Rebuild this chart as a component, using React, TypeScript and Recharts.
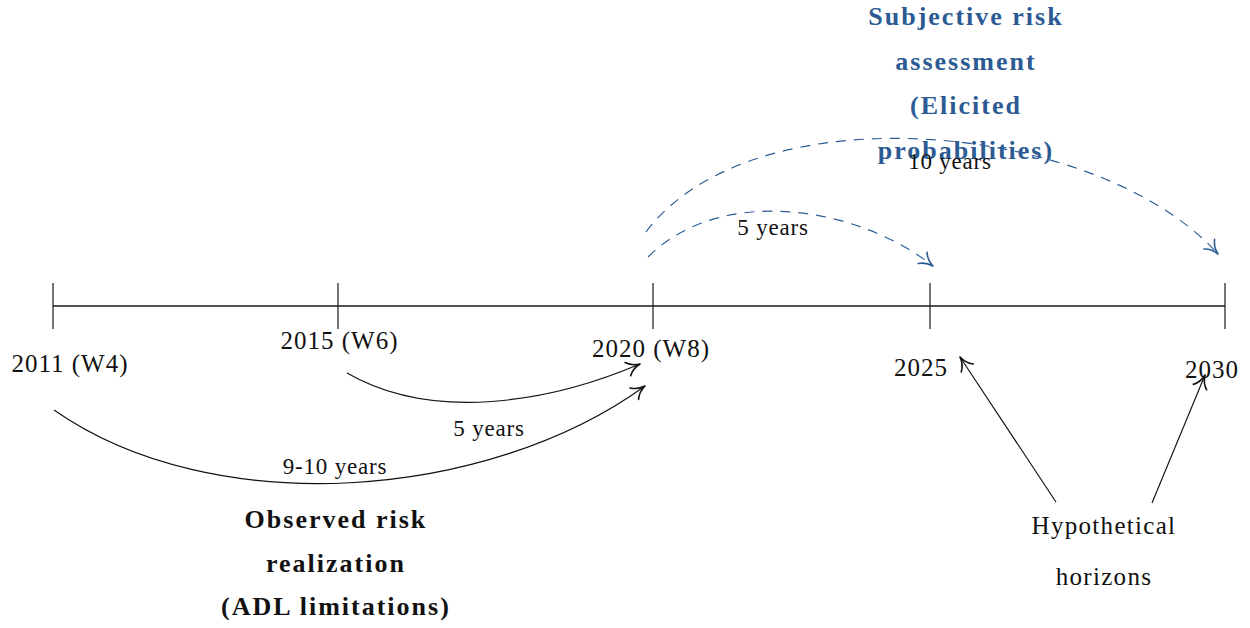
import React from "react";
import { ComposedChart, Line, XAxis, YAxis, ReferenceLine, ReferenceDot } from "recharts";

// ---------- data ----------
const yearLabels = ["2011 (W4)", "2015 (W6)", "2020 (W8)", "2025", "2030"];
const timelinePositions = [0, 4.863, 10.239, 14.966, 20];
const timelineLevels = [0, 0, 0, 0, 0];

const arcLabels = ["5 years", "9-10 years", "5 years", "10 years"];
const arcStartX = [5.017, 0.017, 10.154, 10.119];
const arcStartY = [-1.143, -1.775, 0.836, 1.263];
const arcEndX = [10.017, 10.102, 15.017, 19.881];
const arcEndY = [-0.99, -1.365, 0.683, 0.887];
const arcLabelX = [7.44, 4.812, 12.287, 15.307];
const arcLabelY = [-2.082, -2.747, 1.348, 2.474];
const arcKinds = ["observed", "observed", "subjective", "subjective"];

const pointerStartX = [17.116, 18.754];
const pointerStartY = [-3.345, -3.362];
const pointerEndX = [15.478, 19.659];
const pointerEndY = [-0.87, -1.177];

const subjectiveTitle = ["Subjective risk", "assessment", "(Elicited", "probabilities)"];
const observedTitle = ["Observed risk", "realization", "(ADL limitations)"];
const hypotheticalTitle = ["Hypothetical", "horizons"];
const titleX = [15.58, 4.829, 17.935];
const titleY = [3.797, -4.386, -4.189];

// ---------- style ----------
const W = 1250;
const H = 628;
const X_DOMAIN: [number, number] = [-0.9044, 20.4266];
const Y_DOMAIN: [number, number] = [-5.4949, 5.2218];
const FONT = "'Liberation Serif', 'Times New Roman', serif";
const BLUE = "#2c5b94";
const INK = "#111";
const tickHalf = 23;
const tickLabelOffsets = [
  [17, 58],
  [1.5, 35],
  [-2, 43],
  [-9, 62],
  [-13, 64],
];
// out angle, in angle (degrees), looseness
const arcShapes = [
  [-30, 203, 0.86],
  [-35, 216, 0.84],
  [45, 142, 0.9],
  [53, 132, 0.8],
];

const rows = timelinePositions.map((p, i) => ({
  pos: p,
  level: timelineLevels[i],
  label: yearLabels[i],
}));

function arrowHead(tx: number, ty: number, ang: number, color: string) {
  const L = 15;
  const a = 0.5;
  const back = ang + Math.PI;
  const b1 = [tx + L * Math.cos(back + a), ty + L * Math.sin(back + a)];
  const b2 = [tx + L * Math.cos(back - a), ty + L * Math.sin(back - a)];
  const c1 = [tx + 0.55 * L * Math.cos(back + a * 0.3), ty + 0.55 * L * Math.sin(back + a * 0.3)];
  const c2 = [tx + 0.55 * L * Math.cos(back - a * 0.3), ty + 0.55 * L * Math.sin(back - a * 0.3)];
  const d = `M${b1[0]},${b1[1]} Q${c1[0]},${c1[1]} ${tx},${ty} Q${c2[0]},${c2[1]} ${b2[0]},${b2[1]}`;
  return <path d={d} fill="none" stroke={color} strokeWidth={1.6} strokeLinecap="round" strokeLinejoin="round" />;
}

function makeArcShape(i: number) {
  const [outA, inA, loose] = arcShapes[i];
  const subjective = arcKinds[i] === "subjective";
  const color = subjective ? BLUE : INK;
  return (props: any) => {
    const { x1, y1, x2, y2 } = props;
    const dist = Math.hypot(x2 - x1, y2 - y1) * 0.3915 * loose;
    const oa = (outA * Math.PI) / 180;
    const ia = (inA * Math.PI) / 180;
    const p1 = [x1 + dist * Math.cos(oa), y1 - dist * Math.sin(oa)];
    const p2 = [x2 + dist * Math.cos(ia), y2 - dist * Math.sin(ia)];
    const travel = Math.atan2(y2 - p2[1], x2 - p2[0]);
    return (
      <g>
        <path
          d={`M${x1},${y1} C${p1[0]},${p1[1]} ${p2[0]},${p2[1]} ${x2},${y2}`}
          fill="none"
          stroke={color}
          strokeWidth={1.15}
          strokeDasharray={subjective ? "10 8" : undefined}
        />
        {arrowHead(x2, y2, travel, color)}
      </g>
    );
  };
}

const pointerShape = (props: any) => {
  const { x1, y1, x2, y2 } = props;
  const travel = Math.atan2(y2 - y1, x2 - x1);
  return (
    <g>
      <line x1={x1} y1={y1} x2={x2} y2={y2} stroke={INK} strokeWidth={1.15} />
      {arrowHead(x2, y2, travel, INK)}
    </g>
  );
};

function textShape(lines: string[], opts: { size: number; bold?: boolean; color: string; gap: number; spacing: number }) {
  return (props: any) => {
    const { cx, cy } = props;
    const top = cy - ((lines.length - 1) * opts.gap) / 2;
    return (
      <text
        textAnchor="middle"
        fontFamily={FONT}
        fontSize={opts.size}
        fontWeight={opts.bold ? "bold" : "normal"}
        fill={opts.color}
        letterSpacing={opts.spacing}
      >
        {lines.map((ln, k) => (
          <tspan key={k} x={cx} y={top + k * opts.gap} dominantBaseline="central">
            {ln}
          </tspan>
        ))}
      </text>
    );
  };
}

const TimelineDot = (props: any) => {
  const { cx, cy, index, payload } = props;
  const [dx, dy] = tickLabelOffsets[index] || [0, 40];
  return (
    <g>
      <line x1={cx} y1={cy - tickHalf} x2={cx} y2={cy + tickHalf} stroke="#1a1a1a" strokeWidth={1.2} />
      <text
        x={cx + dx}
        y={cy + dy}
        textAnchor="middle"
        dominantBaseline="central"
        fontFamily={FONT}
        fontSize={25}
        letterSpacing={1}
        fill={INK}
      >
        {payload.label}
      </text>
    </g>
  );
};

export default function App() {
  const titles = [
    { lines: subjectiveTitle, size: 26, bold: true, color: BLUE, gap: 44.7, spacing: 2 },
    { lines: observedTitle, size: 26, bold: true, color: INK, gap: 43.5, spacing: 2 },
    { lines: hypotheticalTitle, size: 25, bold: false, color: INK, gap: 51, spacing: 1.3 },
  ];
  return (
    <div style={{ position: "absolute", left: 0, top: 0, width: W, height: H, background: "#fff" }}>
      <ComposedChart width={W} height={H} data={rows} margin={{ top: 0, right: 0, bottom: 0, left: 0 }}>
        <XAxis dataKey="pos" type="number" domain={X_DOMAIN} hide allowDataOverflow />
        <YAxis type="number" domain={Y_DOMAIN} hide allowDataOverflow />
        {titles.map((t, i) => (
          <ReferenceDot
            key={`t${i}`}
            x={titleX[i]}
            y={titleY[i]}
            r={0}
            shape={textShape(t.lines, t)}
          />
        ))}
        <Line
          dataKey="level"
          type="linear"
          stroke="#1a1a1a"
          strokeWidth={1.3}
          dot={<TimelineDot />}
          activeDot={false}
          isAnimationActive={false}
        />
        {arcLabels.map((_, i) => (
          <ReferenceLine
            key={`a${i}`}
            segment={[
              { x: arcStartX[i], y: arcStartY[i] },
              { x: arcEndX[i], y: arcEndY[i] },
            ]}
            shape={makeArcShape(i)}
          />
        ))}
        {pointerStartX.map((_, i) => (
          <ReferenceLine
            key={`p${i}`}
            segment={[
              { x: pointerStartX[i], y: pointerStartY[i] },
              { x: pointerEndX[i], y: pointerEndY[i] },
            ]}
            shape={pointerShape}
          />
        ))}
        {arcLabels.map((lab, i) => (
          <ReferenceDot
            key={`l${i}`}
            x={arcLabelX[i]}
            y={arcLabelY[i]}
            r={0}
            shape={textShape([lab], { size: 23, color: INK, gap: 0, spacing: 0.8 })}
          />
        ))}
      </ComposedChart>
    </div>
  );
}
